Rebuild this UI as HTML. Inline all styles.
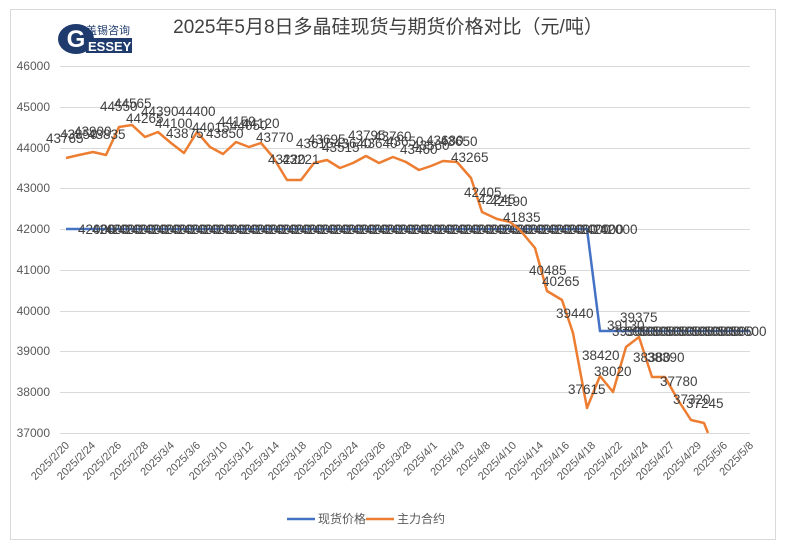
<!DOCTYPE html>
<html><head><meta charset="utf-8"><style>
body{margin:0;background:#fff;width:786px;height:549px;overflow:hidden}
text{font-family:"Liberation Sans","Noto Sans CJK SC",sans-serif}
</style></head><body>
<svg width="786" height="549" viewBox="0 0 786 549" xmlns="http://www.w3.org/2000/svg">
<rect x="10.5" y="9.5" width="765" height="530" fill="#fff" stroke="#d9d9d9"/>
<g>
<ellipse cx="76" cy="39" rx="18" ry="15" fill="#1f3b6e"/>
<text x="76" y="47" font-size="24" font-weight="bold" fill="#fff" text-anchor="middle">G</text>
<text x="86" y="34" font-size="11" fill="#1f3b6e" font-family="Noto Sans CJK SC,sans-serif">盖锡咨询</text>
<rect x="86" y="38" width="46" height="15" fill="#1f3b6e"/>
<text x="88" y="51" font-size="13" fill="#fff" font-weight="bold">ESSEY</text>
</g>
<text x="388" y="33" font-size="19" fill="#404040" text-anchor="middle">2025年5月8日多晶硅现货与期货价格对比（元/吨）</text>
<g stroke="#d9d9d9" stroke-width="1">
<line x1="60" y1="66.5" x2="750" y2="66.5"/><line x1="60" y1="107.5" x2="750" y2="107.5"/>
<line x1="60" y1="148.5" x2="750" y2="148.5"/><line x1="60" y1="188.5" x2="750" y2="188.5"/>
<line x1="60" y1="229.5" x2="750" y2="229.5"/><line x1="60" y1="270.5" x2="750" y2="270.5"/>
<line x1="60" y1="311.5" x2="750" y2="311.5"/><line x1="60" y1="351.5" x2="750" y2="351.5"/>
<line x1="60" y1="392.5" x2="750" y2="392.5"/><line x1="60" y1="433.5" x2="750" y2="433.5"/>
</g>
<g font-size="12" fill="#595959" text-anchor="end">
<text x="50" y="70">46000</text><text x="50" y="111">45000</text><text x="50" y="152">44000</text>
<text x="50" y="192">43000</text><text x="50" y="233">42000</text><text x="50" y="274">41000</text>
<text x="50" y="315">40000</text><text x="50" y="355">39000</text><text x="50" y="396">38000</text>
<text x="50" y="437">37000</text>
</g>
<g font-size="11" fill="#595959" text-anchor="end">
<text transform="translate(70,446) rotate(-45)">2025/2/20</text>
<text transform="translate(96,446) rotate(-45)">2025/2/24</text>
<text transform="translate(122,446) rotate(-45)">2025/2/26</text>
<text transform="translate(149,446) rotate(-45)">2025/2/28</text>
<text transform="translate(175,446) rotate(-45)">2025/3/4</text>
<text transform="translate(201,446) rotate(-45)">2025/3/6</text>
<text transform="translate(228,446) rotate(-45)">2025/3/10</text>
<text transform="translate(254,446) rotate(-45)">2025/3/12</text>
<text transform="translate(280,446) rotate(-45)">2025/3/14</text>
<text transform="translate(307,446) rotate(-45)">2025/3/18</text>
<text transform="translate(333,446) rotate(-45)">2025/3/20</text>
<text transform="translate(359,446) rotate(-45)">2025/3/24</text>
<text transform="translate(386,446) rotate(-45)">2025/3/26</text>
<text transform="translate(412,446) rotate(-45)">2025/3/28</text>
<text transform="translate(438,446) rotate(-45)">2025/4/1</text>
<text transform="translate(465,446) rotate(-45)">2025/4/3</text>
<text transform="translate(491,446) rotate(-45)">2025/4/8</text>
<text transform="translate(517,446) rotate(-45)">2025/4/10</text>
<text transform="translate(544,446) rotate(-45)">2025/4/14</text>
<text transform="translate(570,446) rotate(-45)">2025/4/16</text>
<text transform="translate(596,446) rotate(-45)">2025/4/18</text>
<text transform="translate(623,446) rotate(-45)">2025/4/22</text>
<text transform="translate(649,446) rotate(-45)">2025/4/24</text>
<text transform="translate(675,446) rotate(-45)">2025/4/27</text>
<text transform="translate(702,446) rotate(-45)">2025/4/29</text>
<text transform="translate(728,446) rotate(-45)">2025/5/6</text>
<text transform="translate(754,446) rotate(-45)">2025/5/8</text>
</g>
<polyline fill="none" stroke="#4472c4" stroke-width="2.5" points="66,229 587,229 600,331 750,331"/>
<g font-size="13.5" fill="#404040">
<text x="78" y="234">42000</text><text x="92" y="234">42000</text><text x="105" y="234">42000</text><text x="118" y="234">42000</text>
<text x="131" y="234">42000</text><text x="144" y="234">42000</text><text x="157" y="234">42000</text><text x="170" y="234">42000</text>
<text x="183" y="234">42000</text><text x="196" y="234">42000</text><text x="209" y="234">42000</text><text x="222" y="234">42000</text>
<text x="235" y="234">42000</text><text x="248" y="234">42000</text><text x="261" y="234">42000</text><text x="274" y="234">42000</text>
<text x="287" y="234">42000</text><text x="300" y="234">42000</text><text x="313" y="234">42000</text><text x="326" y="234">42000</text>
<text x="339" y="234">42000</text><text x="352" y="234">42000</text><text x="365" y="234">42000</text><text x="378" y="234">42000</text>
<text x="391" y="234">42000</text><text x="404" y="234">42000</text><text x="417" y="234">42000</text><text x="430" y="234">42000</text>
<text x="443" y="234">42000</text><text x="456" y="234">42000</text><text x="469" y="234">42000</text><text x="482" y="234">42000</text>
<text x="495" y="234">42000</text><text x="508" y="234">42000</text><text x="521" y="234">42000</text><text x="534" y="234">42000</text>
<text x="547" y="234">42000</text><text x="560" y="234">42000</text><text x="573" y="234">42000</text><text x="586" y="234">42000</text>
<text x="600" y="234">42000</text>
<text x="612" y="336">39500</text><text x="625" y="336">39500</text><text x="638" y="336">39500</text><text x="651" y="336">39500</text>
<text x="664" y="336">39500</text><text x="677" y="336">39500</text><text x="690" y="336">39500</text><text x="703" y="336">39500</text>
<text x="716" y="336">39500</text><text x="729" y="336">39500</text>
</g>
<polyline fill="none" stroke="#ed7d31" stroke-width="2.5" stroke-linejoin="round" points="66,158 79,155 93,152 106,155 119,127 132,125 145,137 158,132 171,143 184,153 197,132 210,147 223,154 236,142 249,147 261,143 273,157 287,180 301,180 314,163 327,160 340,168 353,163 366,156 379,163 393,157 406,162 419,170 431,166 443,161 457,162 471,178 482,212 497,219 510,222 520,230 535,248 547,291 562,300 573,333 587,408 600,376 613,392 626,347 639,337 652,377 665,377 678,400 691,420 704,423 708,433"/>
<g font-size="13.5" fill="#404040">
<text x="46" y="143">43765</text><text x="60" y="139">43850</text><text x="74" y="136">43900</text><text x="88" y="139">43835</text>
<text x="100" y="111">44550</text><text x="114" y="108">44565</text><text x="126" y="123">44265</text><text x="141" y="116">44390</text>
<text x="155" y="128">44100</text><text x="166" y="138">43875</text><text x="178" y="116">44400</text><text x="192" y="132">44015</text>
<text x="206" y="138">43850</text><text x="218" y="126">44150</text><text x="230" y="130">44050</text><text x="242" y="128">44120</text>
<text x="256" y="142">43770</text><text x="268" y="164">43220</text><text x="282" y="164">43221</text><text x="296" y="148">43615</text>
<text x="308" y="144">43695</text><text x="322" y="152">43515</text><text x="334" y="148">43640</text><text x="348" y="140">43795</text>
<text x="360" y="148">43640</text><text x="374" y="141">43760</text><text x="386" y="146">43650</text><text x="400" y="154">43460</text>
<text x="412" y="150">43560</text><text x="426" y="145">43680</text><text x="440" y="146">43650</text><text x="451" y="162">43265</text>
<text x="464" y="197">42405</text><text x="478" y="204">42245</text><text x="490" y="206">42190</text><text x="503" y="222">41835</text>
<text x="529" y="275">40485</text><text x="542" y="286">40265</text><text x="556" y="318">39440</text>
<text x="582" y="360">38420</text><text x="568" y="394">37615</text><text x="594" y="376">38020</text>
<text x="607" y="330">39130</text><text x="620" y="322">39375</text><text x="633" y="362">38380</text><text x="647" y="362">38390</text>
<text x="660" y="386">37780</text><text x="673" y="404">37320</text><text x="686" y="408">37245</text>
</g>
<line x1="287" y1="519" x2="315" y2="519" stroke="#4472c4" stroke-width="2.5"/>
<text x="318" y="523" font-size="12" fill="#595959">现货价格</text>
<line x1="366" y1="519" x2="394" y2="519" stroke="#ed7d31" stroke-width="2.5"/>
<text x="397" y="523" font-size="12" fill="#595959">主力合约</text>
</svg>
</body></html>
